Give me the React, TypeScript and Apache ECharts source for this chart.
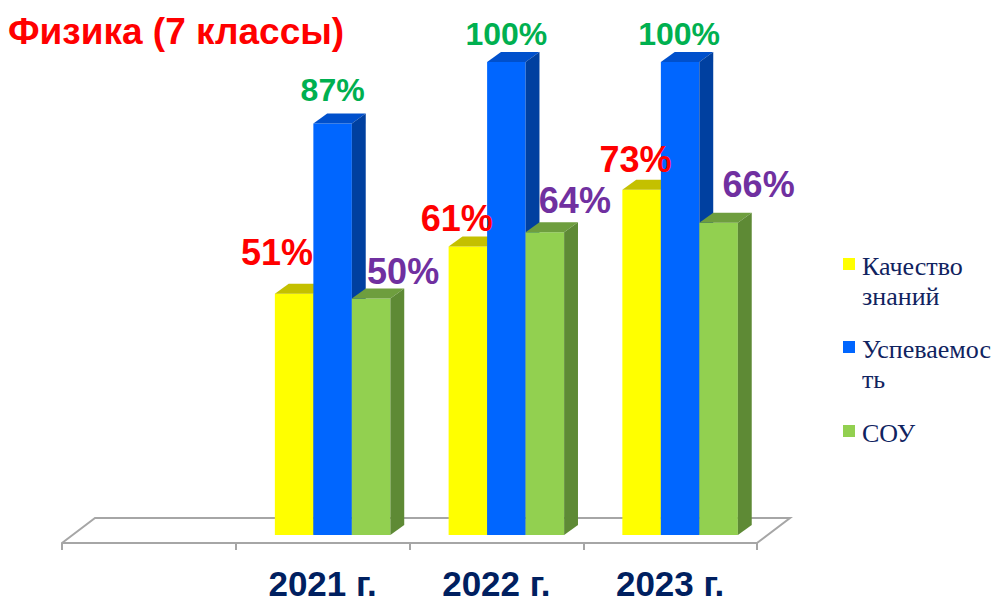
import React, { useEffect, useRef } from "react";
import * as echarts from "echarts";

// ---- data ----
const CATEGORIES = ["", "2021 г.", "2022 г.", "2023 г."];
const SERIES_NAMES = ["Качество знаний", "Успеваемость", "СОУ"];
const QUALITY = [51, 61, 73];
const PROGRESS = [87, 100, 100];
const SOU = [50, 64, 66];
const TITLE = "Физика (7 классы)";

// ---- styles / layout ----
const FRONT = ["#FFFF00", "#0066FF", "#92D050"];
const TOP = ["#C4C000", "#0050CC", "#6E9E3E"];
const SIDE = ["#A8A800", "#0040A0", "#5E8A35"];
const LABEL_COLORS = ["#FF0000", "#00B050", "#7030A0"];
const LABEL_SIZES = [36, 32, 36];
// label nudges [dx from front-face centre, baseline offset from top] per series per year
const LABEL_OFFSETS = [
  [[-17, -29], [-11, -15], [-6, -18]],
  [[0, -22], [0, -17], [-1, -17]],
  [[32, -14], [30, -19], [40, -26]],
];
const LEGEND_TEXT = ["Качество\nзнаний", "Успеваемос\nть", "СОУ"];
const SANS = "'Liberation Sans', Arial, sans-serif";
const SERIF = "'Liberation Serif', 'Times New Roman', serif";

const VALUES = [QUALITY, PROGRESS, SOU];

function barRenderer(k: number) {
  return (params: any, api: any) => {
    const ci = api.value(0);
    const v = api.value(1);
    const base = api.coord([ci, 0]);
    const top = api.coord([ci, v]);
    const band = api.size([1, 0])[0];
    const bw = band * 0.2216;
    const sx = band * 0.0575;
    const sy = -8;
    const dx = bw * 0.36;
    const dy = -10;
    const x0 = base[0] - 1.5 * bw + k * bw + sx;
    const x1 = x0 + bw;
    const yb = base[1] + sy;
    const yt = top[1] + sy;
    const off = LABEL_OFFSETS[k][params.dataIndex];
    const fs = LABEL_SIZES[k];
    return {
      type: "group",
      children: [
        {
          type: "rect",
          shape: { x: x0, y: yt, width: bw, height: yb - yt },
          style: { fill: FRONT[k] },
        },
        {
          type: "polygon",
          shape: { points: [[x0, yt], [x1, yt], [x1 + dx, yt + dy], [x0 + dx, yt + dy]] },
          style: { fill: TOP[k] },
        },
        {
          type: "polygon",
          shape: { points: [[x1, yt], [x1 + dx, yt + dy], [x1 + dx, yb + dy], [x1, yb]] },
          style: { fill: SIDE[k] },
        },
        {
          type: "text",
          z2: 100,
          x: x0 + bw / 2 + off[0],
          y: yt + off[1] - 0.35 * fs,
          style: {
            text: v + "%",
            fill: LABEL_COLORS[k],
            fontSize: fs,
            fontWeight: "bold",
            fontFamily: SANS,
            align: "center",
            verticalAlign: "middle",
          },
        },
      ],
    };
  };
}

function floorRenderer(params: any, api: any) {
  const band = api.size([1, 0])[0];
  const c0 = api.coord([0, 0]);
  const cN = api.coord([CATEGORIES.length - 1, 0]);
  const left = c0[0] - band / 2;
  const right = cN[0] + band / 2;
  const y = c0[1];
  const fdx = band * 0.19;
  const fdy = -25;
  return {
    type: "polyline",
    shape: {
      points: [[left, y], [left + fdx, y + fdy], [right + fdx, y + fdy], [right, y]],
    },
    style: { stroke: "#A6A6A6", lineWidth: 2, fill: "none" },
  };
}

export default function App() {
  const ref = useRef<HTMLDivElement>(null);
  useEffect(() => {
    if (!ref.current) return;
    const chart = echarts.init(ref.current, undefined, { renderer: "svg" });
    const legendY = [258, 341, 425];
    const legendGraphics: any[] = [];
    SERIES_NAMES.forEach((name, i) => {
      legendGraphics.push({
        type: "rect",
        left: 843,
        top: legendY[i],
        shape: { width: 12, height: 12 },
        style: { fill: FRONT[i] },
      });
      legendGraphics.push({
        type: "text",
        x: 862,
        y: legendY[i] - 7,
        style: {
          text: LEGEND_TEXT[i],
          fill: "#10235F",
          fontSize: 26,
          lineHeight: 30,
          fontFamily: SERIF,
          verticalAlign: "top",
        },
      });
    });
    chart.setOption({
      animation: false,
      title: {
        text: TITLE,
        left: 8,
        top: 13,
        padding: 0,
        textStyle: { fontSize: 37, fontWeight: "bold", color: "#FF0000", fontFamily: SANS },
      },
      grid: { left: 62, right: 242, top: 70, bottom: 60, containLabel: false },
      xAxis: {
        type: "category",
        data: CATEGORIES,
        axisLine: { show: true, lineStyle: { color: "#A6A6A6", width: 2 } },
        axisTick: {
          show: true,
          interval: 0,
          alignWithLabel: false,
          length: 7,
          lineStyle: { color: "#A6A6A6", width: 2 },
        },
        axisLabel: {
          interval: 0,
          fontSize: 35,
          lineHeight: 30,
          fontWeight: "bold",
          color: "#002060",
          fontFamily: SANS,
          margin: 25,
        },
      },
      yAxis: { type: "value", min: 0, max: 100, show: false },
      graphic: legendGraphics,
      series: [
        {
          type: "custom",
          name: "floor",
          renderItem: floorRenderer,
          data: [[0, 0]],
          silent: true,
          z: 1,
        },
        ...SERIES_NAMES.map((name, k) => ({
          type: "custom",
          name,
          renderItem: barRenderer(k),
          data: VALUES[k].map((v, i) => [i + 1, v]),
          itemStyle: { color: FRONT[k] },
          z: 2,
        })),
      ],
    });
    return () => chart.dispose();
  }, []);
  return (
    <div
      ref={ref}
      style={{ position: "absolute", left: 0, top: 0, width: 999, height: 603, background: "#fff" }}
    />
  );
}
